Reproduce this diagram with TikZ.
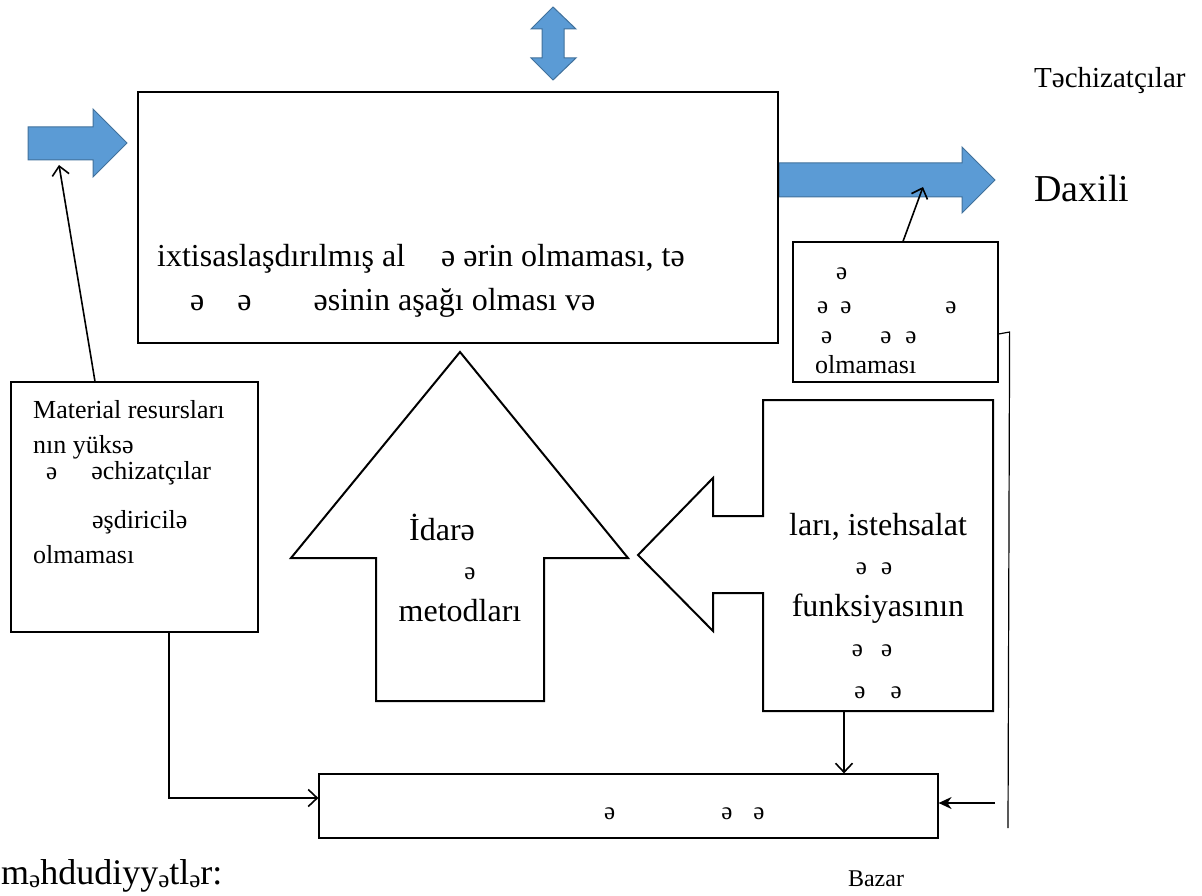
\documentclass[tikz,border=0pt]{standalone}
\usepackage{fontspec}
\setmainfont{Liberation Serif}
\usetikzlibrary{arrows.meta}

\definecolor{arrowblue}{HTML}{5B9BD5}
\definecolor{arrowedge}{HTML}{41719C}

\newcommand{\fsbig}{\fontsize{32}{38}\selectfont}
\newcommand{\fsbox}{\fontsize{26}{30}\selectfont}
\newcommand{\fslabel}{\fontsize{29}{32}\selectfont}
\newcommand{\fsschwa}{\fontsize{25}{28}\selectfont}
\newcommand{\sch}{{\fsschwa ə}}
\newcommand{\lowsch}{\raisebox{-3pt}{\fsschwa ə}}

\tikzstyle{box} = [rectangle, draw=black, line width=1.2pt, inner sep=0pt]
\tikzstyle{block} = [fill=arrowblue, draw=arrowedge, line width=1pt, line join=miter]
\tikzstyle{outline} = [draw=black, line width=2pt, line join=miter]
\tikzstyle{txt} = [inner sep=0pt, anchor=base west]
\tikzstyle{ctxt} = [inner sep=0pt, anchor=base]
\tikzstyle{arrow} = [line width=1.6pt, -{Straight Barb[length=9pt,width=17pt]}]

\begin{document}
\begin{tikzpicture}[x=1pt, y=-1pt]
    \useasboundingbox (0,0) rectangle (1202,896);

    % blue block arrows
    \draw [block] (28,127) -- (93,127) -- (93,109) -- (127,143) -- (93,177) -- (93,160) -- (28,160) -- cycle;
    \draw [block] (779,163) -- (962,163) -- (962,147) -- (995,180) -- (962,213) -- (962,197) -- (779,197) -- cycle;
    \draw [block] (553,7) -- (576,29) -- (564,29) -- (564,58) -- (576,58) -- (553,80) -- (531,58) -- (542,58) -- (542,29) -- (531,29) -- cycle;

    % boxes
    \node (mainbox) [box, minimum width=640, minimum height=251] at (458,217.5) {};
    \node (sbox) [box, minimum width=205, minimum height=140] at (895.5,312) {};
    \node (lbox) [box, minimum width=247, minimum height=250] at (134.5,507) {};
    \node (bbox) [box, minimum width=619, minimum height=64] at (628.5,806) {};

    % big outlined arrows
    \draw [outline] (460,352) -- (628,558) -- (544,558) -- (544,701) -- (376,701) -- (376,558) -- (291,558) -- cycle;
    \draw [outline] (638,555) -- (713,478) -- (713,516) -- (763,516) -- (763,400) -- (993,400) -- (993,711) -- (763,711) -- (763,593) -- (713,593) -- (713,631) -- cycle;

    % texts
    \node (m1) [txt, font=\fsbig] at (157,266) {ixtisaslaşdırılmış al\hspace{36pt}ə\hspace{8pt}ərin olmaması, tə};
    \node (m2) [txt, font=\fsbig] at (190,310) {ə\hspace{33pt}ə\hspace{62pt}əsinin aşağı olması və};

    \node (s1) [txt] at (836,279) {\sch};
    \node (s2) [txt] at (817,313) {\sch\hspace{12pt}\sch\hspace{94pt}\sch};
    \node (s3) [txt] at (821,343) {\sch\hspace{48pt}\sch\hspace{14pt}\sch};
    \node (s4) [txt, font=\fontsize{26}{30}\selectfont] at (815,373) {olmaması};

    \node (l1) [txt, font=\fsbox] at (33,418) {Material resursları};
    \node (l2) [txt, font=\fsbox] at (33,453) {nın yüksə};
    \node (l3) [txt, font=\fsbox] at (46,479) {\sch\hspace{34pt}əchizatçılar};
    \node (l4) [txt, font=\fsbox] at (92,528) {əşdiricilə};
    \node (l5) [txt, font=\fsbox] at (33,563) {olmaması};

    \node (u1) [ctxt, font=\fsbig] at (442,540) {İdarə};
    \node (u2) [ctxt] at (470,579) {\sch};
    \node (u3) [ctxt, font=\fsbig] at (460,621) {metodları};

    \node (r1) [ctxt, font=\fsbig] at (878,535) {ları, istehsalat};
    \node (r2) [ctxt] at (874,574) {\sch\hspace{14pt}\sch};
    \node (r3) [ctxt, font=\fsbig] at (878,616) {funksiyasının};
    \node (r4) [ctxt] at (872,656) {\sch\hspace{18pt}\sch};
    \node (r5) [ctxt] at (878,698) {\sch\hspace{25pt}\sch};

    \node (b1) [txt] at (604,819) {\sch\hspace{106pt}\sch\hspace{21pt}\sch};

    \node (supp) [txt, font=\fslabel] at (1034,88) {Təchizatçılar};
    \node (inner) [txt, font=\fontsize{38}{42}\selectfont] at (1034,202) {Daxili};
    \node (limits) [txt, font=\fontsize{36}{40}\selectfont] at (1,884) {m\lowsch hdudiyy\lowsch tl\lowsch r:};
    \node (market) [ctxt, font=\fontsize{24}{28}\selectfont] at (876,886) {Bazar};

    % connectors
    \coordinate (inpt) at (59,165);
    \coordinate (outpt) at (923,187);
    \coordinate (rfoot) at (844,711);
    \coordinate (mkt) at (1008,828);
    \coordinate (bzr) at (995,803);
    \draw [arrow] ([xshift=-39.5]lbox.north) -- (inpt);
    \draw [arrow] ([xshift=7.5]sbox.north) -- (outpt);
    \draw [arrow] ([xshift=34.5]lbox.south) |- ([yshift=8]bbox.west);
    \draw [arrow] (rfoot) -- (rfoot |- bbox.north);
    \draw [line width=1.2pt] ([yshift=-22]sbox.east) -- ++(11,-2) -- (mkt);
    \draw [line width=1.6pt, -{Stealth[length=13pt,width=12pt]}] (bzr) -- (bzr -| bbox.east);

\end{tikzpicture}
\end{document}
